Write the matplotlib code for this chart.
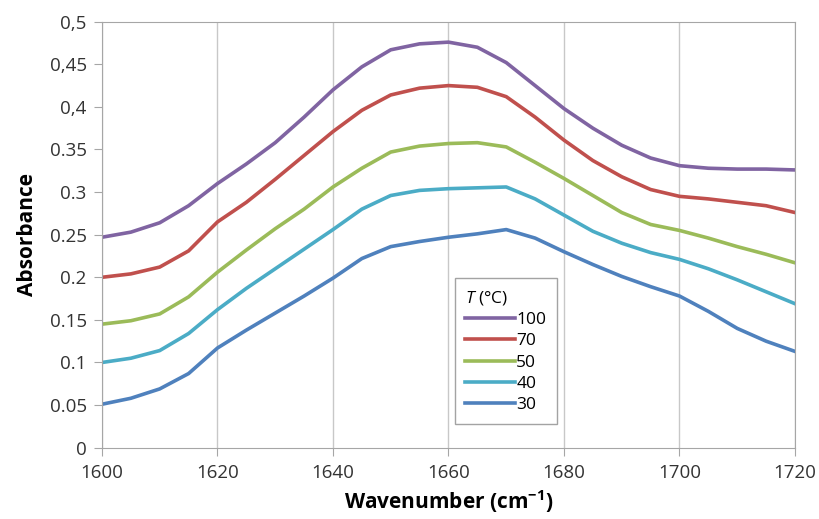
import matplotlib
matplotlib.use('Agg')
import matplotlib.pyplot as plt

plt.rcParams['font.family'] = ['Open Sans', 'DejaVu Sans']
plt.rcParams['mathtext.fontset'] = 'custom'
plt.rcParams['mathtext.it'] = 'Open Sans:italic'
plt.rcParams['mathtext.rm'] = 'Open Sans'
plt.rcParams['mathtext.bf'] = 'Open Sans:bold'

# wavenumber (cm-1)
wn = [1600, 1605, 1610, 1615, 1620, 1625, 1630, 1635, 1640, 1645, 1650, 1655, 1660,
      1665, 1670, 1675, 1680, 1685, 1690, 1695, 1700, 1705, 1710, 1715, 1720]

# absorbance per temperature
a100 = [.247, .253, .264, .284, .310, .333, .358, .388, .420, .447, .467, .474, .476,
        .470, .452, .425, .398, .375, .355, .340, .331, .328, .327, .327, .326]
a70 = [.200, .204, .212, .231, .265, .288, .315, .343, .371, .396, .414, .422, .425,
       .423, .412, .388, .361, .337, .318, .303, .295, .292, .288, .284, .276]
a50 = [.145, .149, .157, .177, .206, .232, .257, .280, .306, .328, .347, .354, .357,
       .358, .353, .335, .316, .296, .276, .262, .255, .246, .236, .227, .217]
a40 = [.100, .105, .114, .134, .162, .187, .210, .233, .256, .280, .296, .302, .304,
       .305, .306, .292, .273, .254, .240, .229, .221, .210, .197, .183, .169]
a30 = [.051, .058, .069, .087, .117, .138, .158, .178, .199, .222, .236, .242, .247,
       .251, .256, .246, .230, .215, .201, .189, .178, .160, .140, .125, .113]

labels = ['100', '70', '50', '40', '30']
series = [a100, a70, a50, a40, a30]
colors = ['#8064A2', '#C0504D', '#9BBB59', '#4BACC6', '#4F81BD']

yticks = [0, 0.05, 0.1, 0.15, 0.2, 0.25, 0.3, 0.35, 0.4, 0.45, 0.5]
ytick_labels = ['0', '0.05', '0.1', '0.15', '0.2', '0.25', '0.3', '0.35', '0,4', '0,45', '0,5']
xticks = [1600, 1620, 1640, 1660, 1680, 1700, 1720]

fig = plt.figure(figsize=(8.19, 5.19), dpi=100)
ax = fig.add_axes([0.1245, 0.1374, 0.8462, 0.8208])

for y, lab, c in zip(series, labels, colors):
    ax.plot(wn, y, color=c, lw=2.6, label=lab, solid_joinstyle='round')

ax.set_xlim(1600, 1720)
ax.set_ylim(0, 0.5)
ax.set_xticks(xticks)
ax.set_yticks(yticks)
ax.set_yticklabels(ytick_labels)
ax.tick_params(direction='out', length=6, color='#A6A6A6', labelsize=13.5,
               labelcolor='#333333')
ax.tick_params(axis='y', pad=5)
ax.tick_params(axis='x', pad=6)
ax.xaxis.grid(True, color='#C8C8C8', lw=1)
for s in ax.spines.values():
    s.set_color('#A6A6A6')

ax.set_xlabel(r'Wavenumber (cm$\mathbf{^{-1}}$)', fontsize=15, fontweight='bold', labelpad=4)
ax.set_ylabel('Absorbance', fontsize=15, fontweight='bold', labelpad=8)

leg = ax.legend(title='$T$ (°C)', loc='upper left', bbox_to_anchor=(0.509, 0.398),
                borderaxespad=0, fontsize=12.5, title_fontsize=12.5, frameon=True,
                fancybox=False, edgecolor='#8C8C8C', handlelength=2.9,
                handletextpad=0.05, labelspacing=0.3, borderpad=0.6)
leg._legend_box.align = 'left'
leg.get_frame().set_linewidth(1)

fig.savefig('out.png', dpi=100)
